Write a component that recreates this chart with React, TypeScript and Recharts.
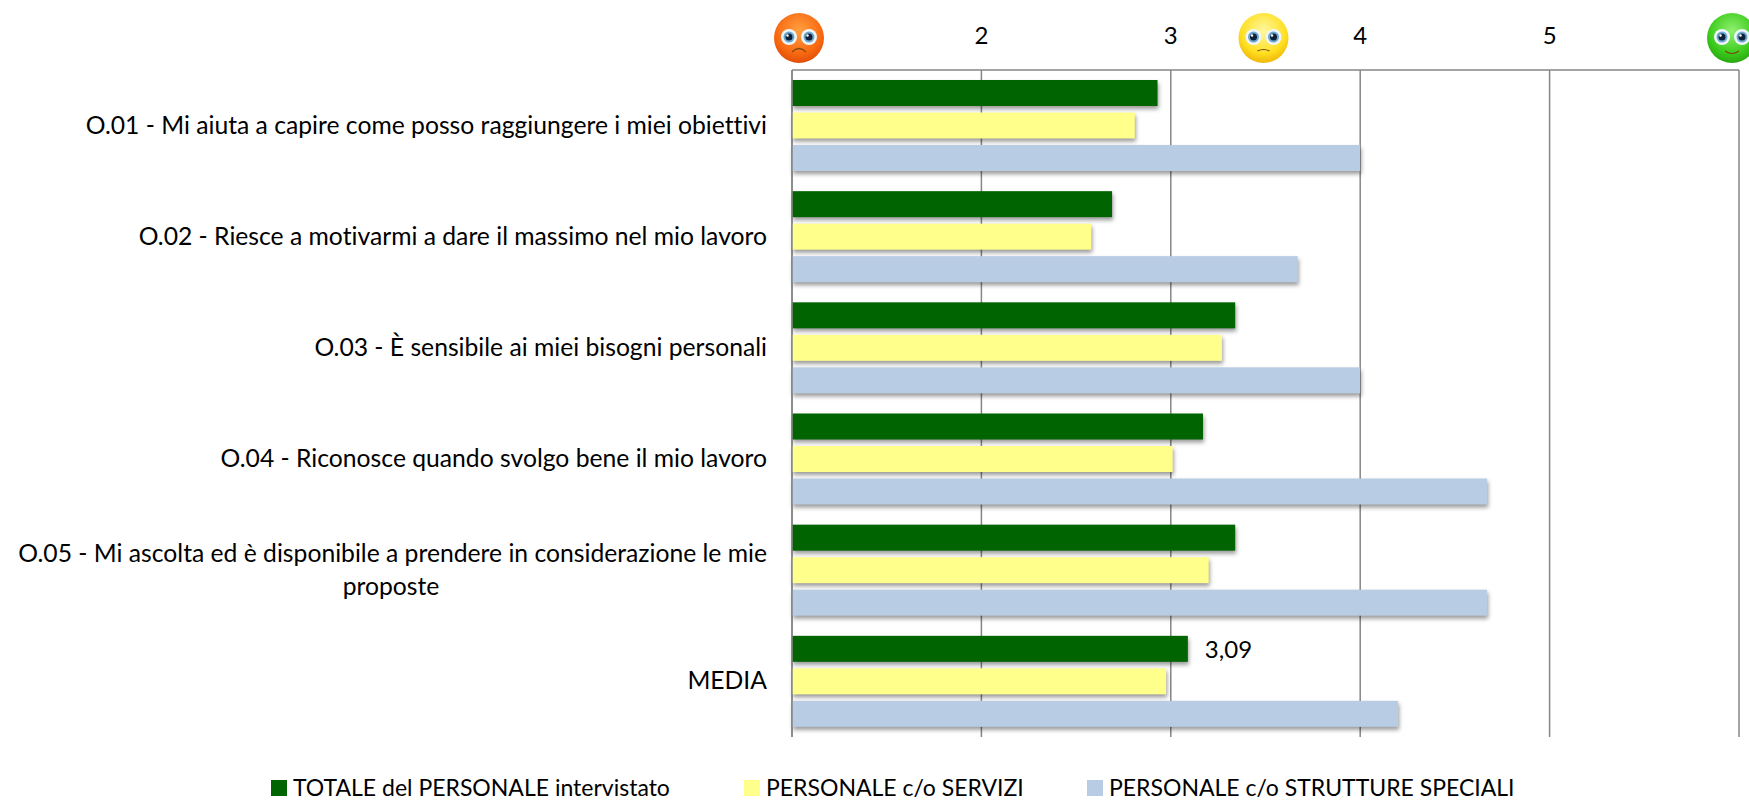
import { Bar, BarChart, CartesianGrid, LabelList, Legend, XAxis, YAxis } from "recharts";

const categories = [
  "O.01 - Mi aiuta a capire come posso raggiungere i miei obiettivi",
  "O.02 - Riesce a motivarmi a dare il massimo nel mio lavoro",
  "O.03 - È sensibile ai miei bisogni personali",
  "O.04 - Riconosce quando svolgo bene il mio lavoro",
  "O.05 - Mi ascolta ed è disponibile a prendere in considerazione le mie\nproposte",
  "MEDIA",
];
const totale = [2.93, 2.69, 3.34, 3.17, 3.34, 3.09];
const servizi = [2.81, 2.58, 3.27, 3.01, 3.2, 2.975];
const strutture = [4.0, 3.67, 4.0, 4.67, 4.67, 4.2];
const xTicks = [1, 2, 3, 3.5, 4, 5, 6];
const gridValues = [1, 2, 3, 4, 5, 6];

const data = categories.map((name, i) => ({
  name,
  totale: totale[i],
  servizi: servizi[i],
  strutture: strutture[i],
}));

const FONT = "Lato, sans-serif";
const NO_LIGATURES = { fontVariantLigatures: "none" as const };

const FACES: Record<number, { dx: number; light: string; mid: string; dark: string; mouth: string }> = {
  1: { dx: 7, light: "#ffa040", mid: "#f96a12", dark: "#e04e08", mouth: "M-7 14 Q0 7 7 14" },
  3.5: { dx: -2, light: "#fff8a0", mid: "#ffdf20", dark: "#eeb808", mouth: "M-6 13 Q0 10 6 13" },
  6: { dx: -7, light: "#90f070", mid: "#3ccc1c", dark: "#28a810", mouth: "M-7 13 Q0 18 7 13" },
};

function Face({ x, tick }: { x: number; tick: number }) {
  const f = FACES[tick];
  const id = `face-${String(tick).replace(".", "")}`;
  return (
    <g transform={`translate(${x + f.dx},38)`}>
      <defs>
        <radialGradient id={id} cx="50%" cy="35%" r="65%">
          <stop offset="0%" stopColor={f.light} />
          <stop offset="70%" stopColor={f.mid} />
          <stop offset="100%" stopColor={f.dark} />
        </radialGradient>
      </defs>
      <circle r={25} fill={`url(#${id})`} />
      {[-10, 10].map((ex) => (
        <g key={ex} transform={`translate(${ex},-1)`}>
          <circle r={8} fill="#eef6fb" />
          <circle r={5.5} fill="#6fa8cf" />
          <circle r={3.5} fill="#10203a" />
          <circle cx={-1.5} cy={-1.5} r={1.2} fill="#ffffff" />
        </g>
      ))}
      <path d={f.mouth} fill="none" stroke="#7a4a10" strokeWidth={1.2} />
    </g>
  );
}

function TopTick({ x, payload }: any) {
  if (FACES[payload.value]) return <Face x={x} tick={payload.value} />;
  return (
    <text x={x} y={44} textAnchor="middle" fontFamily={FONT} fontSize={24} fill="#000000">
      {payload.value}
    </text>
  );
}

function CategoryTick({ y, payload }: any) {
  const lines = String(payload.value).split("\n");
  if (lines.length > 1) {
    return (
      <text fontFamily={FONT} fontSize={24.7} fill="#000000" style={NO_LIGATURES}>
        <tspan x={767} y={y - 8} textAnchor="end">{lines[0]}</tspan>
        <tspan x={391} y={y + 25} textAnchor="middle">{lines[1]}</tspan>
      </text>
    );
  }
  return (
    <text x={767} y={y + 8} textAnchor="end" fontFamily={FONT} fontSize={24.7} fill="#000000" style={NO_LIGATURES}>
      {lines[0]}
    </text>
  );
}

function ShadowBar({ x, y, width, height, fill }: any) {
  return (
    <rect
      x={x}
      y={y}
      width={width}
      height={height}
      fill={fill}
      style={{ filter: "drop-shadow(1px 3px 2px rgba(0,0,0,0.4))" }}
    />
  );
}

function MediaLabel({ x, y, width, height, value, index }: any) {
  if (index !== categories.length - 1) return null;
  return (
    <text x={x + width + 17} y={y + height / 2 + 9} fontFamily={FONT} fontSize={24} fill="#000000">
      {Number(value).toFixed(2).replace(".", ",")}
    </text>
  );
}

const LEGEND_LEFT = [271, 744, 1087];

function LegendContent({ payload }: any) {
  return (
    <div style={{ position: "relative", height: 65, fontFamily: FONT, fontSize: 23, lineHeight: 1, color: "#000000", ...NO_LIGATURES }}>
      {(payload ?? []).map((item: any, i: number) => (
        <div key={item.value} style={{ position: "absolute", left: LEGEND_LEFT[i], top: 39, display: "flex", alignItems: "center", whiteSpace: "nowrap" }}>
          <span style={{ width: 16, height: 16, background: item.color, marginRight: 6, display: "inline-block" }} />
          {item.value}
        </div>
      ))}
    </div>
  );
}

export default function App() {
  return (
    <div style={{ position: "absolute", left: 0, top: 0, width: 1749, height: 802, overflow: "hidden", background: "#ffffff" }}>
      <BarChart
        width={1749}
        height={802}
        data={data}
        layout="vertical"
        margin={{ top: 0, right: 10, bottom: 0, left: 0 }}
        barSize={26}
        barGap={6.5}
        barCategoryGap={10}
      >
        <CartesianGrid horizontal={false} verticalValues={gridValues} stroke="#868686" strokeWidth={1.5} />
        <XAxis
          type="number"
          orientation="top"
          height={70}
          domain={[1, 6]}
          ticks={xTicks}
          interval={0}
          tick={<TopTick />}
          tickLine={false}
          axisLine={{ stroke: "#868686", strokeWidth: 1.5 }}
        />
        <YAxis
          type="category"
          dataKey="name"
          width={792}
          interval={0}
          tick={<CategoryTick />}
          tickLine={false}
          axisLine={{ stroke: "#868686", strokeWidth: 1.5 }}
        />
        <Legend height={65} verticalAlign="bottom" itemSorter={null} content={<LegendContent />} wrapperStyle={{ left: 0, width: 1749 }} />
        <Bar dataKey="totale" name="TOTALE del PERSONALE intervistato" fill="#006400" shape={<ShadowBar />} isAnimationActive={false}>
          <LabelList dataKey="totale" content={<MediaLabel />} />
        </Bar>
        <Bar dataKey="servizi" name="PERSONALE c/o SERVIZI" fill="#ffff8b" shape={<ShadowBar />} isAnimationActive={false} />
        <Bar dataKey="strutture" name="PERSONALE c/o STRUTTURE SPECIALI" fill="#b8cce4" shape={<ShadowBar />} isAnimationActive={false} />
      </BarChart>
    </div>
  );
}
